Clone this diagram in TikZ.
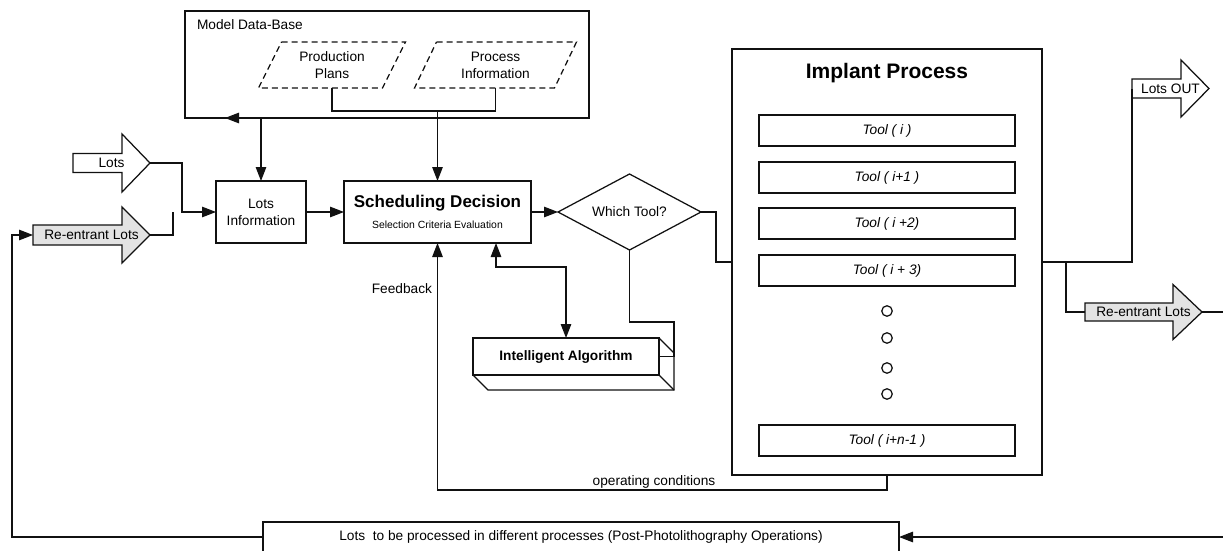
\documentclass[tikz,border=0pt]{standalone}
\usepackage{fontspec}
\setmainfont{Liberation Sans}
\usetikzlibrary{arrows.meta,shapes.geometric,calc}

\definecolor{arrowgray}{HTML}{E3E3E3}
\definecolor{ink}{HTML}{111111}

\tikzset{
  base/.style={font=\fontsize{13.7}{17}\selectfont},
  wire/.style={line width=1.25pt, draw=ink},
  arr/.style={wire, -{Triangle[length=14pt,width=10.5pt]}},
  darr/.style={wire, {Triangle[length=14pt,width=10.5pt]}-{Triangle[length=14pt,width=10.5pt]}},
  box/.style={draw=ink, line width=1.25pt, rectangle, inner sep=0pt, outer sep=0pt, base, align=center},
  toolbox/.style={box, minimum width=256pt, minimum height=31pt, font=\fontsize{13.7}{17}\selectfont\itshape},
  lbl/.style={inner sep=0pt, outer sep=0pt, base, align=center},
  dashbox/.style={draw=ink, line width=1.25pt, dash pattern=on 6pt off 4pt},
  fatarrow/.style={draw=ink, line width=1.25pt, line join=miter},
  dot/.style={circle, draw=ink, line width=1.25pt, minimum size=10.5pt, inner sep=0pt},
}

% block arrow: name, fill, x tail, x head base, x tip, y centre, body half height, head half height, text
\newcommand{\fatarrowpath}[9]{%
  \draw[fatarrow, fill=#2] (#3,#6-#7) -- (#4,#6-#7) -- (#4,#6-#8) -- (#5,#6)
    -- (#4,#6+#8) -- (#4,#6+#7) -- (#3,#6+#7) -- cycle;
  \node[lbl] (#1) at ({(#3+#5)/2},#6) {#9};
  \coordinate (#1-tip) at (#5,#6);
  \coordinate (#1-tail) at (#3,#6);
}

\begin{document}
\begin{tikzpicture}[x=1pt, y=-1pt]
\useasboundingbox (0,0) rectangle (1223,551);
\clip (0,0) rectangle (1223,551);
\fill[white] (0,0) rectangle (1223,551);

% model data base
\node[box, minimum width=404pt, minimum height=107pt] (mdb) at (387,64.5) {};
\node[lbl, anchor=base west] (mdbT) at (197,30) {Model Data-Base};
\node[lbl, minimum width=124pt, minimum height=46pt] (pplan) at (332,65) {Production\\Plans};
\node[lbl, minimum width=140pt, minimum height=46pt] (pinfo) at (495.5,65) {Process\\Information};
\draw[dashbox] ($(pplan.north west)+(11.5,0)$) -- ($(pplan.north east)+(11.5,0)$)
  -- ($(pplan.south east)+(-11.5,0)$) -- ($(pplan.south west)+(-11.5,0)$) -- cycle;
\draw[dashbox] ($(pinfo.north west)+(11,0)$) -- ($(pinfo.north east)+(11,0)$)
  -- ($(pinfo.south east)+(-11,0)$) -- ($(pinfo.south west)+(-11,0)$) -- cycle;

% decision chain
\node[box, minimum width=90pt, minimum height=62pt] (li) at (261,212) {Lots\\Information};
\node[box, minimum width=187pt, minimum height=62pt] (sched) at (437.5,212) {};
\node[lbl, font=\bfseries\fontsize{17}{20}\selectfont, anchor=base] (schedT) at (437.5,207) {Scheduling Decision};
\node[lbl, font=\fontsize{10.4}{12}\selectfont, anchor=base] (schedS) at (437.5,228) {Selection Criteria Evaluation};
\node[diamond, draw=ink, line width=1.25pt, minimum width=143pt, minimum height=76pt,
      aspect=1.88, inner sep=0pt, outer sep=0pt, base] (wt) at (629.5,212) {Which Tool?};

% intelligent algorithm block
\node[box, minimum width=186pt, minimum height=37pt, font=\bfseries\fontsize{13.7}{17}\selectfont] (algo) at (566,356.5) {Intelligent Algorithm};
\draw[wire, line join=miter] (algo.north east) -- ++(15,15) -- ++(0,37) -- ++(-186,0) -- (algo.south west);
\draw[wire] (algo.south east) -- ++(15,15);

% implant process
\node[box, minimum width=310pt, minimum height=426pt] (imp) at (887,262) {};
\node[lbl, font=\bfseries\fontsize{21}{25}\selectfont, anchor=base] (impT) at (887,78) {Implant Process};
\node[toolbox] (t1) at (887,130.5) {Tool ( i )};
\node[toolbox] (t2) at (887,177.5) {Tool ( i+1 )};
\node[toolbox] (t3) at (887,223.5) {Tool ( i +2)};
\node[toolbox] (t4) at (887,270.5) {Tool ( i + 3)};
\node[toolbox] (tn) at (887,440.5) {Tool ( i+n-1 )};
\node[dot] (d1) at (887,311) {};
\node[dot] (d2) at (887,338) {};
\node[dot] (d3) at (887,368) {};
\node[dot] (d4) at (887,394) {};

% block arrows
\fatarrowpath{lots}{white}{73}{122}{150}{163}{9.5}{29}{Lots}
\fatarrowpath{reL}{arrowgray}{33}{122}{150}{235}{10}{28}{Re-entrant Lots}
\fatarrowpath{lotsout}{white}{1132}{1181}{1209}{88.5}{9.5}{28.5}{Lots OUT}
\fatarrowpath{reR}{arrowgray}{1085}{1173}{1202}{312}{9}{27.5}{Re-entrant Lots}

% post-photolithography box
\node[box, minimum width=636pt, minimum height=30pt] (post) at (581,537) {Lots\ \ to be processed in different processes (Post-Photolithography Operations)};

% labels
\node[lbl, anchor=base east] (fb) at (432,293) {Feedback};
\node[lbl, anchor=base] (opc) at (654,485) {operating conditions};

% connectors
\draw[arr] (lots-tip) -| ([xshift=-34pt]li.west) -- (li.west);
\draw[wire] (reL-tip) -| ([xshift=-43pt]li.west);
\draw[arr] (li.east) -- (sched.west);
\draw[arr] (sched.east) -- (wt.west);
\draw[darr] ($(mdb.south -| li.north)+(-36,0)$) -- (mdb.south -| li.north) -- (li.north);
\draw[wire] (pplan.south) -- ++(0,23) -| (pinfo.south);
\draw[arr] ($(pplan.south -| sched.north)+(0,23)$) -- (sched.north);
\draw[darr] ($(sched.south)+(58.5,0)$) -- ++(0,24) -| (algo.north);
\draw[wire] (wt.south) |- ($(algo.north east)+(15,-16)$) -- ($(algo.east)+(15,0)$) -- (algo.east);
\draw[wire] (wt.east) -- ++(15,0) |- (imp.west);
\draw[arr] (imp.south) -- ++(0,15) -| (sched.south);
\coordinate (split) at ($(imp.east)+(24,0)$);
\draw[wire] (imp.east) -| (lotsout-tail);
\draw[wire] (split) |- (reR-tail);
\coordinate (edgeTop) at (1240,312);
\coordinate (edgeBot) at (1240,537);
\draw[arr] (reR-tip) -- (edgeTop) -- (edgeBot) -- (post.east);
\coordinate (loopL) at (12,537);
\draw[arr] (post.west) -- (loopL) |- (reL-tail);
\end{tikzpicture}
\end{document}
